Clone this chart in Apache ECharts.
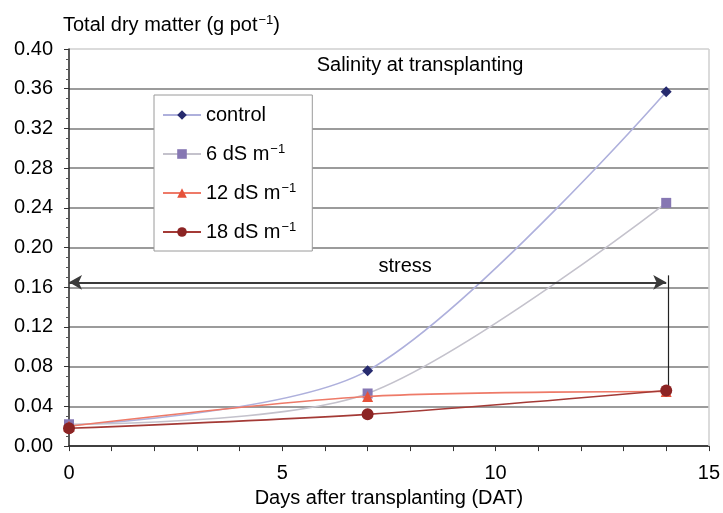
<!DOCTYPE html>
<html>
<head>
<meta charset="utf-8">
<script src="https://cdn.jsdelivr.net/npm/echarts@6/dist/echarts.min.js"></script>
<style>
  html, body { margin: 0; padding: 0; background: #fff; }
  #chart { width: 723px; height: 513px; }
</style>
</head>
<body>
<div id="chart"></div>
<script>
// Days after transplanting at which plants were sampled
const days = [0, 7, 14];

// Total dry matter (g per pot) for each salinity level
const control = [0.021, 0.076, 0.357];
const ds6 = [0.022, 0.053, 0.245];
const ds12 = [0.020, 0.050, 0.055];
const ds18 = [0.018, 0.032, 0.056];

const seriesNames = ['control', '6 dS m−1', '12 dS m−1', '18 dS m−1'];
const yTicks = [0, 0.04, 0.08, 0.12, 0.16, 0.20, 0.24, 0.28, 0.32, 0.36, 0.40];
const xTicks = [0, 5, 10, 15];

// Stress period annotation
const stressStart = 0, stressEnd = 14, stressLevel = 0.165;
const stressDropX = 14.04, stressDropTop = 0.172, stressDropBottom = 0.056;

const FONT = 'Liberation Sans';
const FS = 20;

function pairs(vals) { return days.map((d, i) => [d, vals[i]]); }

const chart = echarts.init(document.getElementById('chart'));

const supRich = {
  a: { fontFamily: FONT, fontSize: FS, color: '#000', lineHeight: 22 },
  s: { fontFamily: FONT, fontSize: 13, color: '#000', lineHeight: 22, verticalAlign: 'top', padding: [0, 0, 0, 1] }
};

function legendLabel(name) {
  const m = name.match(/^(.*)(−1)$/);
  if (m) return '{a|' + m[1] + '}{s|' + m[2] + '}';
  return '{a|' + name + '}';
}

const styles = [
  { symbol: 'diamond', size: 11, marker: '#262a6e', line: '#aeb0dc' },
  { symbol: 'rect', size: 10, marker: '#8677b3', line: '#c4c2cc' },
  { symbol: 'triangle', size: 11, marker: '#e5523a', line: '#ee7a68' },
  { symbol: 'circle', size: 12, marker: '#8c2424', line: '#a43a36' }
];
const dataSets = [control, ds6, ds12, ds18];

const gridColors = yTicks.map((v, i) => i === yTicks.length - 1 ? '#cfcfcf' : '#7a7a7a');

const series = dataSets.map((vals, i) => ({
  name: seriesNames[i],
  type: 'line',
  data: pairs(vals),
  smooth: 0.3,
  symbol: styles[i].symbol,
  symbolSize: styles[i].size,
  showSymbol: true,
  lineStyle: { color: styles[i].line, width: 1.6 },
  itemStyle: { color: styles[i].marker },
  z: 3 + i
}));

// Stress arrow, drop line, plot border and annotation texts
series.push({
  name: 'annotations',
  type: 'line',
  data: [],
  silent: true,
  markLine: {
    silent: true,
    animation: false,
    symbol: ['arrow', 'arrow'],
    symbolSize: [11, 13],
    label: { show: false },
    lineStyle: { color: '#3a3a3a', width: 2, type: 'solid' },
    data: [
      [{ coord: [stressStart, stressLevel] }, { coord: [stressEnd, stressLevel] }]
    ]
  },
  markPoint: {
    silent: true,
    animation: false,
    symbol: 'circle',
    symbolSize: 0,
    data: [
      { coord: [7.88, 0.181], label: { show: true, formatter: 'stress', position: 'inside', color: '#000', fontFamily: FONT, fontSize: FS } },
      { coord: [8.23, 0.383], label: { show: true, formatter: 'Salinity at transplanting', position: 'inside', color: '#000', fontFamily: FONT, fontSize: FS } }
    ]
  }
});
series.push({
  name: 'drop',
  type: 'line',
  data: [],
  silent: true,
  markLine: {
    silent: true,
    animation: false,
    symbol: ['none', 'none'],
    label: { show: false },
    lineStyle: { color: '#222', width: 1.2, type: 'solid' },
    data: [
      [{ coord: [stressDropX, stressDropTop] }, { coord: [stressDropX, stressDropBottom] }],
    ]
  }
});
series.push({
  name: 'border',
  type: 'line',
  data: [],
  silent: true,
  markLine: {
    silent: true,
    animation: false,
    symbol: ['none', 'none'],
    label: { show: false },
    lineStyle: { color: '#cfcfcf', width: 1.5, type: 'solid' },
    data: [{ xAxis: 15 }]
  }
});

chart.setOption({
  animation: false,
  backgroundColor: '#fff',
  textStyle: { fontFamily: FONT },
  grid: { left: 69, right: 11, top: 49, bottom: 64, containLabel: false },
  title: {
    text: 'Total dry matter (g pot{s|−1})',
    left: 58,
    top: 9,
    textStyle: { fontFamily: FONT, fontSize: FS, fontWeight: 'normal', color: '#000', rich: supRich }
  },
  legend: {
    data: seriesNames,
    orient: 'vertical',
    left: 154,
    top: 95,
    width: 140,
    padding: [10, 16, 9, 8],
    itemGap: 18,
    itemWidth: 38,
    itemHeight: 12,
    backgroundColor: '#fff',
    borderColor: '#9a9a9a',
    borderWidth: 1,
    borderRadius: 0,
    formatter: legendLabel,
    textStyle: { fontFamily: FONT, fontSize: FS, color: '#000', rich: supRich }
  },
  xAxis: {
    type: 'value',
    min: 0,
    max: 15,
    interval: 1,
    name: 'Days after transplanting (DAT)',
    nameLocation: 'middle',
    nameGap: 40,
    nameTextStyle: { fontFamily: FONT, fontSize: FS, color: '#000' },
    axisLine: { lineStyle: { color: '#222', width: 1.5 } },
    axisTick: { show: true, length: 5, lineStyle: { color: '#333', width: 1 } },
    axisLabel: {
      margin: 17,
      fontFamily: FONT, fontSize: FS, color: '#000',
      formatter: v => (xTicks.indexOf(v) >= 0 ? String(v) : '')
    },
    splitLine: { show: false }
  },
  yAxis: {
    type: 'value',
    min: 0,
    max: 0.40,
    interval: 0.04,
    axisLine: { show: true, lineStyle: { color: '#222', width: 1.5 } },
    axisTick: { show: true, length: 5, lineStyle: { color: '#333', width: 1 } },
    minorTick: { show: true, splitNumber: 4, length: 3, lineStyle: { color: '#555' } },
    axisLabel: {
      margin: 16,
      fontFamily: FONT, fontSize: FS, color: '#000',
      formatter: v => v.toFixed(2)
    },
    splitLine: { show: true, lineStyle: { color: gridColors, width: 1.6 } }
  },
  series: series
});
</script>
</body>
</html>
